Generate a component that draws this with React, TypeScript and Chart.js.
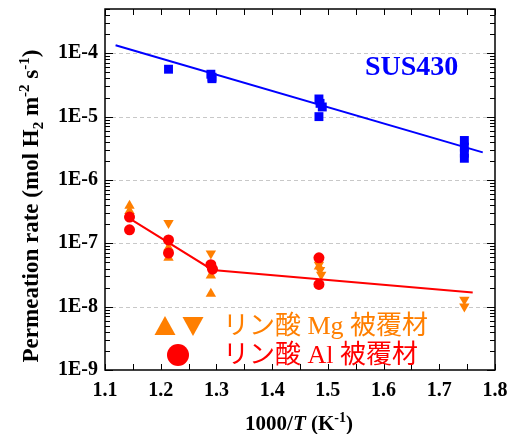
import React, { useEffect, useRef } from "react";
import { Chart, registerables } from "chart.js";
Chart.register(...registerables);

// ---- data ----
const X_TICKS = [1.1, 1.2, 1.3, 1.4, 1.5, 1.6, 1.7, 1.8];
const Y_TICKS = [1e-9, 1e-8, 1e-7, 1e-6, 1e-5, 1e-4];
const Y_LABELS = ["1E-9", "1E-8", "1E-7", "1E-6", "1E-5", "1E-4"];

const SUS_X = [1.214, 1.29, 1.292, 1.292, 1.484, 1.486, 1.49, 1.484, 1.745, 1.745, 1.745, 1.745];
const SUS_Y = [5.6e-5, 4.67e-5, 4.19e-5, 3.97e-5, 1.9e-5, 1.62e-5, 1.42e-5, 1.0e-5, 4.2e-6, 3.3e-6, 2.65e-6, 2.2e-6];
const SUS_FIT_X = [1.119, 1.778];
const SUS_FIT_Y = [1.34e-4, 2.73e-6];

const MG_UP_X = [1.144, 1.144, 1.214, 1.214, 1.29, 1.29, 1.484];
const MG_UP_Y = [3.9e-7, 3.25e-7, 8.5e-8, 5.9e-8, 3.1e-8, 1.6e-8, 4.3e-8];
const MG_DOWN_X = [1.214, 1.214, 1.29, 1.484, 1.486, 1.488, 1.745, 1.745];
const MG_DOWN_Y = [2.1e-7, 1.0e-7, 6.9e-8, 4.6e-8, 3.8e-8, 3.2e-8, 1.29e-8, 1.01e-8];

const AL_X = [1.144, 1.144, 1.214, 1.214, 1.29, 1.293, 1.484, 1.484];
const AL_Y = [2.6e-7, 1.63e-7, 1.13e-7, 7.0e-8, 4.6e-8, 3.9e-8, 5.9e-8, 2.24e-8];
const AL_FIT_X = [1.143, 1.293, 1.76];
const AL_FIT_Y = [2.5e-7, 3.8e-8, 1.68e-8];

const BLUE = "#0000ff";
const ORANGE = "#ff7f00";
const RED = "#ff0000";
const SERIF = '"Liberation Serif", serif';
const LEG_FONT = '26px "Liberation Serif", "Noto Sans CJK JP", serif';

const pts = (xs: number[], ys: number[]) => xs.map((x, i) => ({ x, y: ys[i] }));

function drawPieces(ctx: CanvasRenderingContext2D, pieces: { t: string; f: string; dy: number }[], cx: number, y: number) {
  let total = 0;
  for (const p of pieces) { ctx.font = p.f; total += ctx.measureText(p.t).width; }
  let x = cx - total / 2;
  for (const p of pieces) {
    ctx.font = p.f;
    ctx.fillText(p.t, x, y + p.dy);
    x += ctx.measureText(p.t).width;
  }
}

const decor = {
  id: "decor",
  beforeDatasetsDraw(chart: any) {
    const { ctx, chartArea: a, scales } = chart;
    const ys = scales.y;
    ctx.save();
    ctx.strokeStyle = "#c8c8c8";
    ctx.lineWidth = 1;
    ctx.setLineDash([4, 3]);
    for (const v of Y_TICKS) {
      if (v <= 1e-9) continue;
      const py = Math.round(ys.getPixelForValue(v)) + 0.5;
      ctx.beginPath(); ctx.moveTo(a.left, py); ctx.lineTo(a.right, py); ctx.stroke();
    }
    ctx.restore();
  },
  afterDraw(chart: any) {
    const { ctx, chartArea: a, scales } = chart;
    const xs = scales.x, ys = scales.y;
    ctx.save();
    ctx.strokeStyle = "#000";
    ctx.lineWidth = 1;
    for (let i = 0; i <= 14; i++) {
      const v = 1.1 + i * 0.05;
      const px = Math.round(xs.getPixelForValue(v)) + 0.5;
      ctx.beginPath();
      ctx.moveTo(px, a.bottom); ctx.lineTo(px, a.bottom - 6);
      ctx.moveTo(px, a.top); ctx.lineTo(px, a.top + 6);
      ctx.stroke();
    }
    for (let e = -9; e <= -4; e++) {
      for (let m = 1; m <= 9; m++) {
        const v = m * Math.pow(10, e);
        if (v > ys.max * 1.0001) continue;
        const py = Math.round(ys.getPixelForValue(v)) + 0.5;
        const len = m === 1 ? 8 : 5;
        ctx.beginPath();
        ctx.moveTo(a.left, py); ctx.lineTo(a.left + len, py);
        ctx.moveTo(a.right, py); ctx.lineTo(a.right - len, py);
        ctx.stroke();
      }
    }
    ctx.lineWidth = 1.5;
    ctx.strokeRect(a.left, a.top, a.right - a.left, a.bottom - a.top);

    ctx.fillStyle = BLUE;
    ctx.font = `bold 28px ${SERIF}`;
    ctx.textBaseline = "alphabetic";
    ctx.textAlign = "left";
    ctx.fillText("SUS430", 365, 75);

    ctx.fillStyle = ORANGE;
    ctx.beginPath(); ctx.moveTo(165, 316); ctx.lineTo(175.5, 335); ctx.lineTo(154.5, 335); ctx.closePath(); ctx.fill();
    ctx.beginPath(); ctx.moveTo(182.5, 317); ctx.lineTo(203.5, 317); ctx.lineTo(193, 336); ctx.closePath(); ctx.fill();
    ctx.font = LEG_FONT;
    ctx.textBaseline = "middle";
    ctx.fillText("リン酸 Mg 被覆材", 223, 327);
    ctx.fillStyle = RED;
    ctx.beginPath(); ctx.arc(178, 355, 11, 0, Math.PI * 2); ctx.fill();
    ctx.fillText("リン酸 Al 被覆材", 223, 356);

    ctx.fillStyle = "#000";
    ctx.textBaseline = "alphabetic";
    const B = `bold 21px ${SERIF}`;
    const BI = `italic bold 21px ${SERIF}`;
    const S = `bold 14px ${SERIF}`;
    drawPieces(ctx, [
      { t: "1000/", f: B, dy: 0 },
      { t: "T", f: BI, dy: 0 },
      { t: " (K", f: B, dy: 0 },
      { t: "-1", f: S, dy: -8 },
      { t: ")", f: B, dy: 0 },
    ], 299, 430);

    ctx.translate(38, 206);
    ctx.rotate(-Math.PI / 2);
    const YB = `bold 23px ${SERIF}`;
    const YS = `bold 15px ${SERIF}`;
    drawPieces(ctx, [
      { t: "Permeation rate (mol H", f: YB, dy: 0 },
      { t: "2", f: YS, dy: 5 },
      { t: " m", f: YB, dy: 0 },
      { t: "-2", f: YS, dy: -9 },
      { t: " s", f: YB, dy: 0 },
      { t: "-1", f: YS, dy: -9 },
      { t: ")", f: YB, dy: 0 },
    ], 0, 0);
    ctx.restore();
  },
};

export default function App() {
  const ref = useRef<HTMLCanvasElement>(null);
  useEffect(() => {
    const canvas = ref.current!;
    const tickFont = { family: "Liberation Serif", weight: "bold" as const, size: 20 };
    const chart = new Chart(canvas, {
      type: "scatter",
      data: {
        datasets: [
          { type: "line", data: pts(AL_FIT_X, AL_FIT_Y), borderColor: RED, borderWidth: 2, pointRadius: 0, fill: false, tension: 0 },
          { type: "line", data: pts(SUS_FIT_X, SUS_FIT_Y), borderColor: BLUE, borderWidth: 2, pointRadius: 0, fill: false, tension: 0 },
          { data: pts(AL_X, AL_Y), pointStyle: "circle", pointRadius: 5.5, backgroundColor: RED, borderColor: RED, borderWidth: 0 },
          { data: pts(MG_DOWN_X, MG_DOWN_Y), pointStyle: "triangle", rotation: 180, pointRadius: 6, backgroundColor: ORANGE, borderColor: ORANGE, borderWidth: 0 },
          { data: pts(MG_UP_X, MG_UP_Y), pointStyle: "triangle", pointRadius: 6, backgroundColor: ORANGE, borderColor: ORANGE, borderWidth: 0 },
          { data: pts(SUS_X, SUS_Y), pointStyle: "rect", pointRadius: 6.3, backgroundColor: BLUE, borderColor: BLUE, borderWidth: 0 },
        ] as any,
      },
      options: {
        responsive: false,
        animation: false,
        events: [],
        layout: { padding: { top: 9, right: 15, left: 0, bottom: 0 } },
        plugins: { legend: { display: false }, tooltip: { enabled: false } },
        scales: {
          x: {
            type: "linear",
            min: 1.1,
            max: 1.8,
            afterBuildTicks: (s: any) => { s.ticks = X_TICKS.map((v) => ({ value: v })); },
            afterFit: (s: any) => { s.height = 64; s.paddingLeft = 0; s.paddingRight = 0; },
            ticks: { font: tickFont, color: "#000", padding: 9, maxRotation: 0, autoSkip: false, callback: (v: any) => Number(v).toFixed(1) },
            grid: { display: false, drawTicks: false },
            border: { display: false },
          },
          y: {
            type: "logarithmic",
            min: 1e-9,
            max: 5e-4,
            afterBuildTicks: (s: any) => { s.ticks = Y_TICKS.map((v) => ({ value: v })); },
            afterFit: (s: any) => { s.width = 105; s.paddingTop = 0; s.paddingBottom = 0; },
            ticks: {
              font: tickFont, color: "#000", padding: 7, autoSkip: false,
              callback: (v: any) => { const i = Y_TICKS.findIndex((t) => Math.abs(t - v) / t < 1e-6); return i >= 0 ? Y_LABELS[i] : ""; },
            },
            grid: { display: false, drawTicks: false },
            border: { display: false },
          },
        },
      },
      plugins: [decor],
    });
    return () => chart.destroy();
  }, []);
  return (
    <div style={{ position: "fixed", left: 0, top: 0, width: 510, height: 434, background: "#fff" }}>
      <canvas ref={ref} width={510} height={434} />
    </div>
  );
}
